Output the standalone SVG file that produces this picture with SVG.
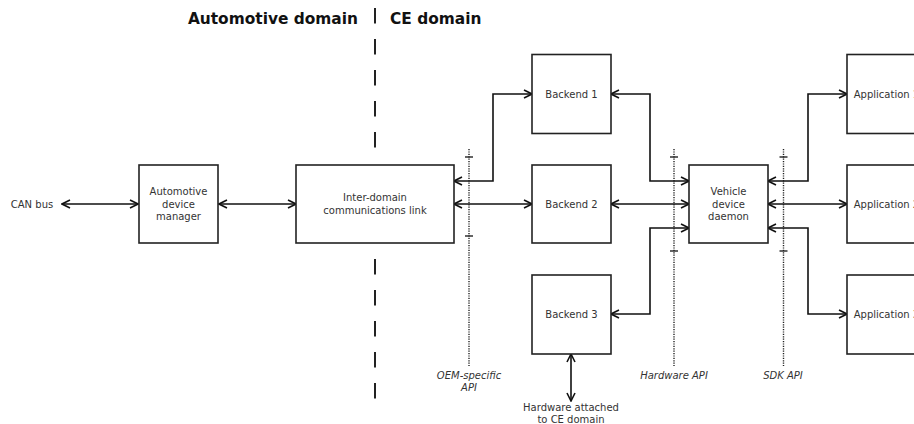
<svg xmlns="http://www.w3.org/2000/svg" width="914" height="424" viewBox="0 0 914 424">
<defs>
<marker id="ah" viewBox="0 0 10 10" refX="9" refY="5" markerWidth="10" markerHeight="10" markerUnits="userSpaceOnUse" orient="auto-start-reverse">
<path d="M1,1 L9,5 L1,9" fill="none" stroke="#111" stroke-width="1.6"/>
</marker>
</defs>
<style>
.box{fill:#fff;stroke:#222;stroke-width:1.6}
.lbl{font-family:"DejaVu Sans",sans-serif;font-size:10px;fill:#333;text-anchor:middle}
.api{font-family:"DejaVu Sans",sans-serif;font-size:10px;font-style:italic;fill:#333;text-anchor:middle}
.title{font-family:"DejaVu Sans",sans-serif;font-size:15.4px;font-weight:bold;fill:#111}
.con{fill:none;stroke:#111;stroke-width:1.6;marker-start:url(#ah);marker-end:url(#ah)}
.dot{stroke:#222;stroke-width:1.4;stroke-dasharray:1.2,1.2;fill:none}
.tick{stroke:#222;stroke-width:1.4}
.dash{stroke:#222;stroke-width:2;stroke-dasharray:15.5,15.5;fill:none}
</style>
<g id="titles">
<text class="title" x="358" y="24" text-anchor="end">Automotive domain</text>
<text class="title" x="390" y="24">CE domain</text>
</g>
<g id="divider">
<line class="dash" x1="375" y1="8" x2="375" y2="150"/>
<line class="dash" x1="375" y1="259" x2="375" y2="401"/>
</g>
<g id="apis">
<line class="dot" x1="469" y1="149" x2="469" y2="366"/>
<line class="tick" x1="465" y1="157" x2="473" y2="157"/>
<line class="tick" x1="465" y1="236" x2="473" y2="236"/>
<line class="dot" x1="674" y1="149" x2="674" y2="366"/>
<line class="tick" x1="670" y1="157" x2="678" y2="157"/>
<line class="tick" x1="670" y1="251" x2="678" y2="251"/>
<line class="dot" x1="783.5" y1="149" x2="783.5" y2="366"/>
<line class="tick" x1="779.5" y1="157" x2="787.5" y2="157"/>
<line class="tick" x1="779.5" y1="251" x2="787.5" y2="251"/>
<text class="api" x="469" y="379">OEM-specific</text>
<text class="api" x="469" y="391">API</text>
<text class="api" x="674" y="379">Hardware API</text>
<text class="api" x="783" y="379">SDK API</text>
</g>
<g id="connectors">
<line class="con" x1="62" y1="204" x2="138" y2="204"/>
<line class="con" x1="219" y1="204" x2="296" y2="204"/>
<polyline class="con" points="454,181 493,181 493,94 532,94"/>
<line class="con" x1="454" y1="204" x2="532" y2="204"/>
<polyline class="con" points="611,94 650,94 650,181 689,181"/>
<line class="con" x1="611" y1="204" x2="689" y2="204"/>
<polyline class="con" points="611,314 650,314 650,228 689,228"/>
<polyline class="con" points="768,181 808,181 808,94 847,94"/>
<line class="con" x1="768" y1="204" x2="847" y2="204"/>
<polyline class="con" points="768,228 808,228 808,314 847,314"/>
<line class="con" x1="571" y1="354" x2="571" y2="401"/>
</g>
<g id="can-bus">
<text class="lbl" x="32" y="207.5">CAN bus</text>
</g>
<g id="adm">
<rect class="box" x="139" y="165" width="79" height="78"/>
<text class="lbl" x="178.5" y="195">Automotive</text>
<text class="lbl" x="178.5" y="207.5">device</text>
<text class="lbl" x="178.5" y="220">manager</text>
</g>
<g id="idl">
<rect class="box" x="296" y="165" width="158" height="78"/>
<text class="lbl" x="375" y="201">Inter-domain</text>
<text class="lbl" x="375" y="214">communications link</text>
</g>
<g id="backend1">
<rect class="box" x="532" y="54.5" width="79" height="79"/>
<text class="lbl" x="571.5" y="97.5">Backend 1</text>
</g>
<g id="backend2">
<rect class="box" x="532" y="165" width="79" height="78"/>
<text class="lbl" x="571.5" y="207.5">Backend 2</text>
</g>
<g id="backend3">
<rect class="box" x="532" y="275" width="79" height="79"/>
<text class="lbl" x="571.5" y="317.5">Backend 3</text>
</g>
<g id="daemon">
<rect class="box" x="689" y="165" width="79" height="78"/>
<text class="lbl" x="728.5" y="195">Vehicle</text>
<text class="lbl" x="728.5" y="207.5">device</text>
<text class="lbl" x="728.5" y="220">daemon</text>
</g>
<g id="app1">
<rect class="box" x="847" y="54.5" width="79" height="79"/>
<text class="lbl" x="886.5" y="97.5">Application 1</text>
</g>
<g id="app2">
<rect class="box" x="847" y="165" width="79" height="78"/>
<text class="lbl" x="886.5" y="207.5">Application 2</text>
</g>
<g id="app3">
<rect class="box" x="847" y="275" width="79" height="79"/>
<text class="lbl" x="886.5" y="317.5">Application 3</text>
</g>
<g id="hw">
<text class="lbl" x="571" y="411">Hardware attached</text>
<text class="lbl" x="571" y="423">to CE domain</text>
</g>
</svg>
